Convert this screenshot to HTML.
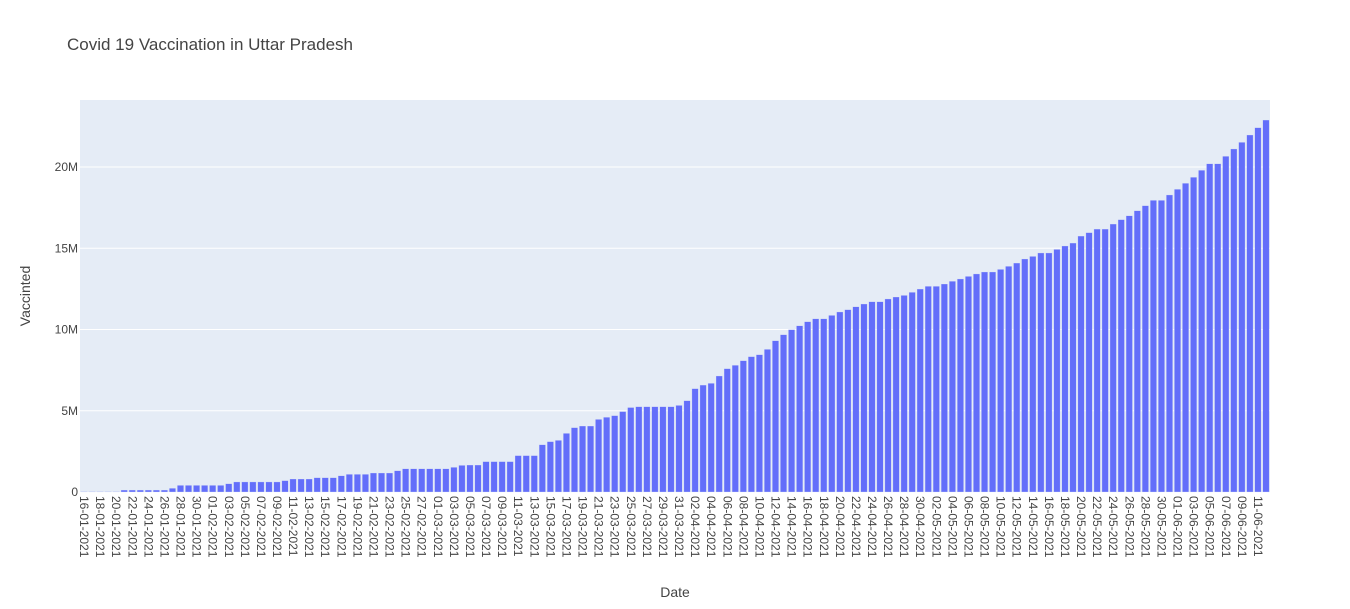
<!DOCTYPE html>
<html><head><meta charset="utf-8">
<style>
html,body{margin:0;padding:0;background:#fff;}
svg{display:block;font-family:"Liberation Sans",Arial,sans-serif;}
</style></head>
<body>
<svg id="chart" width="1350" height="609" viewBox="0 0 1350 609">
  <text x="67" y="50" font-size="17" fill="#444">Covid 19 Vaccination in Uttar Pradesh</text>
  <rect x="80" y="100" width="1190" height="392" fill="#e5ecf6"/>
  <g id="grid"></g>
  <g id="bars"></g>
  <g id="yticks"></g>
  <g id="xticks"></g>
  <text x="675" y="597" font-size="14" fill="#444" text-anchor="middle">Date</text>
  <text x="30" y="296" font-size="14" fill="#444" text-anchor="middle" transform="rotate(-90 30 296)">Vaccinted</text>
</svg>
<script>
// values in millions, one per day starting 16-01-2021
const startDate = [2021, 0, 16];
const vaccinated = [
0.02,0.02,0.02,0.02,0.02,
0.12,0.12,0.12,0.12,0.12,0.12,
0.23,
0.41,0.41,0.41,0.41,0.41,0.41,
0.51,
0.62,0.62,0.62,0.62,0.62,0.62,
0.7,
0.8,0.8,0.8,
0.88,0.88,0.88,
1.0,
1.09,1.09,1.09,
1.17,1.17,1.17,
1.31,
1.43,1.43,1.43,1.43,1.43,1.43,
1.52,1.64,1.66,1.66,
1.87,1.87,1.87,1.87,
2.24,2.24,2.24,
2.91,3.1,3.18,3.61,3.96,4.06,4.06,4.47,4.6,4.7,4.95,5.2,
5.25,5.25,5.25,5.25,5.25,5.33,5.62,6.36,6.58,6.69,7.14,7.59,7.8,8.08,8.33,8.45,8.78,
9.31,9.68,9.99,10.23,10.48,10.66,10.66,10.87,11.08,11.22,11.4,
11.57,11.71,11.71,11.88,12.0,12.1,12.29,12.49,12.66,12.66,12.8,12.97,13.11,13.27,13.42,
13.54,13.54,13.7,13.89,14.09,14.34,14.5,14.71,14.71,14.93,15.14,15.32,15.75,15.96,16.18,
16.18,16.49,16.76,17.0,17.31,17.62,17.95,17.95,18.28,18.63,19.0,19.37,19.8,20.2,20.2,
20.66,21.11,21.52,21.97,22.42,22.89
];
const yTickValues = [0,5,10,15,20];
const yTickLabels = ["0","5M","10M","15M","20M"];

const NS = "http://www.w3.org/2000/svg";
const X0 = 80, X1 = 1270, Y0 = 492, PX_PER_M = 16.25;
const n = vaccinated.length;
const band = (X1 - X0) / n;
function xScale(i){ return X0 + i * band; }
function yScale(v){ return Y0 - v * PX_PER_M; }
function pad(k){ return (k<10?"0":"")+k; }
const categories = [];
for (let i=0;i<n;i++){
  const d = new Date(startDate[0], startDate[1], startDate[2]+i);
  categories.push(pad(d.getDate())+"-"+pad(d.getMonth()+1)+"-"+d.getFullYear());
}

const grid = document.getElementById('grid');
const yt = document.getElementById('yticks');
yTickValues.forEach((v,k)=>{
  const y = yScale(v);
  if (v>0){
    const l = document.createElementNS(NS,'line');
    l.setAttribute('x1',X0); l.setAttribute('x2',X1);
    l.setAttribute('y1',y); l.setAttribute('y2',y);
    l.setAttribute('stroke','#fff'); l.setAttribute('stroke-width','1');
    
    
    grid.appendChild(l);
  }
  const t = document.createElementNS(NS,'text');
  t.setAttribute('x',78); t.setAttribute('y',y+4);
  t.setAttribute('text-anchor','end'); t.setAttribute('font-size','12'); t.setAttribute('fill','#444');
  t.textContent = yTickLabels[k];
  
  
  yt.appendChild(t);
});

const bars = document.getElementById('bars');
const bw = band*0.8;
vaccinated.forEach((v,i)=>{
  const r = document.createElementNS(NS,'rect');
  const y = yScale(v);
  r.setAttribute('x', xScale(i)+band*0.1);
  r.setAttribute('y', y);
  r.setAttribute('width', bw);
  r.setAttribute('height', Math.max(0, Y0-y));
  r.setAttribute('fill','#636efa');
  r.setAttribute('stroke','rgba(229,236,246,0.6)');
  r.setAttribute('stroke-width','0.5');
  
  
  bars.appendChild(r);
});

const xt = document.getElementById('xticks');
for (let i=0;i<n;i+=2){
  const cx = xScale(i)+band/2;
  const t = document.createElementNS(NS,'text');
  const bx = cx-4, by = 496;
  t.setAttribute('x',bx); t.setAttribute('y',by);
  t.setAttribute('transform','rotate(90 '+bx+' '+by+')');
  t.setAttribute('font-size','12'); t.setAttribute('fill','#444');
  t.textContent = categories[i];
  
  
  xt.appendChild(t);
}
</script>
</body></html>
